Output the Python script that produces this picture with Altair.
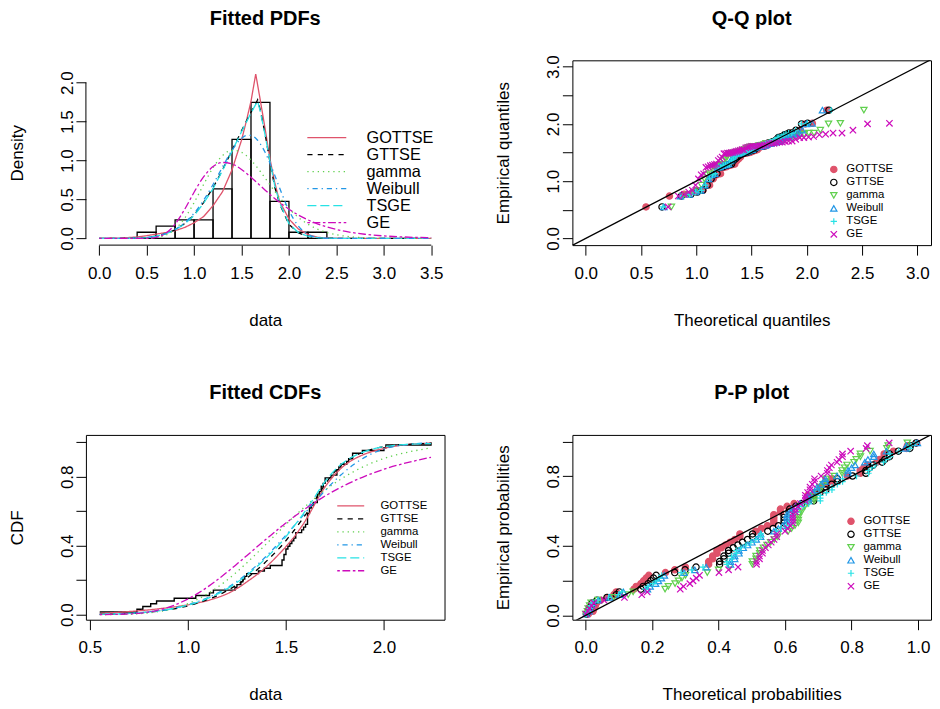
import altair as alt
import pandas as pd

FONT = "Liberation Sans"
W, H = 359, 185

MODELS = ["GOTTSE", "GTTSE", "gamma", "Weibull", "TSGE", "GE"]
COLORS = ["#DF536B", "#000000", "#61D04F", "#2297E6", "#28E2E5", "#CD0BBC"]
DASHES = [[1, 0], [5.2, 5.2], [1.3, 3.9], [1.3, 3.9, 5.2, 3.9], [9.1, 3.9], [2.6, 2.6, 7.8, 2.6]]
SHAPES = ["circle", "circle", "triangle-down", "triangle-up", "M-1,0H1M0,-1V1", "M-1,-1L1,1M-1,1L1,-1"]
FILLS = ["#DF536B", "transparent", "transparent", "transparent", "transparent", "transparent"]

# observed sample (sorted)
OBS = [0.55, 0.74, 0.77, 0.81, 0.84, 0.93, 1.04, 1.11, 1.13, 1.24, 1.25, 1.27, 1.28, 1.29, 1.30,
       1.36, 1.39, 1.42, 1.48, 1.48, 1.49, 1.49, 1.50, 1.50, 1.51, 1.52, 1.53, 1.54, 1.55, 1.55,
       1.58, 1.59, 1.60, 1.61, 1.61, 1.61, 1.61, 1.62, 1.62, 1.63, 1.64, 1.66, 1.66, 1.66, 1.67,
       1.68, 1.68, 1.69, 1.70, 1.70, 1.73, 1.76, 1.76, 1.77, 1.78, 1.81, 1.82, 1.84, 1.84, 1.89,
       2.00, 2.01, 2.24]

# histogram
HIST_LEFT = [0.4, 0.6, 0.8, 1.0, 1.2, 1.4, 1.6, 1.8, 2.0, 2.2]
HIST_RIGHT = [0.6, 0.8, 1.0, 1.2, 1.4, 1.6, 1.8, 2.0, 2.2, 2.4]
HIST_DENSITY = [0.079, 0.159, 0.238, 0.238, 0.635, 1.270, 1.746, 0.476, 0.079, 0.079]

# fitted densities
PDF_X = [0.0, 0.2, 0.4, 0.5, 0.6, 0.7, 0.8, 0.9, 1.0, 1.1, 1.2, 1.3, 1.4, 1.5, 1.55, 1.6, 1.65, 1.67,
         1.7, 1.75, 1.8, 1.85, 1.9, 2.0, 2.1, 2.2, 2.3, 2.4, 2.6, 2.8, 3.0, 3.2, 3.5]
PDF_GOTTSE = [0, 0.004, 0.018, 0.035, 0.055, 0.075, 0.10, 0.14, 0.20, 0.28, 0.42, 0.60, 0.88, 1.26, 1.50,
              1.76, 2.11, 1.97, 1.76, 1.40, 1.02, 0.72, 0.48, 0.25, 0.12, 0.05, 0.015, 0.004, 0.0005, 0, 0, 0, 0]
PDF_GTTSE = [0, 0, 0.003, 0.01, 0.03, 0.06, 0.11, 0.19, 0.30, 0.46, 0.65, 0.88, 1.13, 1.38, 1.50, 1.62,
             1.73, 1.78, 1.64, 1.33, 0.98, 0.66, 0.45, 0.18, 0.07, 0.025, 0.008, 0.003, 0, 0, 0, 0, 0]
PDF_GAMMA = [0, 0, 0.0001, 0.0017, 0.0106, 0.0419, 0.1183, 0.258, 0.4584, 0.6907, 0.9076, 1.064, 1.132,
             1.106, 1.063, 1.005, 0.935, 0.904, 0.8556, 0.7726, 0.6887, 0.606, 0.5273, 0.3848, 0.2698,
             0.1825, 0.1191, 0.0754, 0.0278, 0.0093, 0.0029, 0.0008, 0.0001]
PDF_WEIBULL = [0, 0.0002, 0.0043, 0.0125, 0.0297, 0.0619, 0.1162, 0.2007, 0.3233, 0.4883, 0.6918, 0.9175,
               1.1316, 1.284, 1.320, 1.3215, 1.2854, 1.260, 1.2114, 1.1024, 0.9663, 0.8124, 0.6525, 0.361,
               0.1574, 0.0519, 0.0122, 0.0019, 0.0, 0, 0, 0, 0]
PDF_TSGE = [0, 0, 0.003, 0.01, 0.028, 0.058, 0.108, 0.185, 0.295, 0.45, 0.64, 0.87, 1.12, 1.37, 1.49, 1.61,
            1.72, 1.76, 1.62, 1.32, 0.99, 0.68, 0.46, 0.19, 0.075, 0.028, 0.009, 0.003, 0, 0, 0, 0, 0]
PDF_GE = [0, 0, 0.0001, 0.0015, 0.0139, 0.0641, 0.1831, 0.3718, 0.5925, 0.7896, 0.9219, 0.9743, 0.9554,
          0.8851, 0.8377, 0.7853, 0.7306, 0.7084, 0.6745, 0.6188, 0.5645, 0.513, 0.4636, 0.3753, 0.3002,
          0.2381, 0.1876, 0.1470, 0.0893, 0.0537, 0.0322, 0.0192, 0.0088]

# fitted CDFs at the distinct sample values
CDF_X = [0.55, 0.74, 0.77, 0.81, 0.84, 0.93, 1.04, 1.11, 1.13, 1.24, 1.25, 1.27, 1.28, 1.29, 1.30, 1.36,
         1.39, 1.42, 1.48, 1.49, 1.50, 1.51, 1.52, 1.53, 1.54, 1.55, 1.58, 1.59, 1.60, 1.61, 1.62, 1.63,
         1.64, 1.66, 1.67, 1.68, 1.69, 1.70, 1.73, 1.76, 1.77, 1.78, 1.81, 1.82, 1.84, 1.89, 2.00, 2.01, 2.24]
CDF_GOTTSE = [0.008, 0.022, 0.025, 0.029, 0.033, 0.045, 0.066, 0.085, 0.092, 0.145, 0.152, 0.166, 0.174,
              0.182, 0.190, 0.240, 0.268, 0.300, 0.370, 0.382, 0.395, 0.408, 0.421, 0.435, 0.449, 0.464,
              0.512, 0.529, 0.547, 0.566, 0.586, 0.606, 0.627, 0.668, 0.688, 0.707, 0.725, 0.742, 0.787,
              0.826, 0.837, 0.848, 0.876, 0.884, 0.898, 0.926, 0.965, 0.968, 0.996]
CDF_GTTSE = [0.002, 0.009, 0.012, 0.016, 0.020, 0.034, 0.064, 0.092, 0.101, 0.166, 0.173, 0.188, 0.196,
             0.204, 0.212, 0.268, 0.299, 0.332, 0.403, 0.416, 0.430, 0.444, 0.458, 0.472, 0.487, 0.502,
             0.548, 0.564, 0.580, 0.597, 0.614, 0.632, 0.650, 0.686, 0.705, 0.723, 0.740, 0.757, 0.803,
             0.843, 0.854, 0.865, 0.892, 0.900, 0.914, 0.941, 0.975, 0.977, 0.994]
CDF_GAMMA = [0.0002, 0.0051, 0.0075, 0.0118, 0.0162, 0.0373, 0.0841, 0.1282, 0.1429, 0.2389, 0.2488,
             0.2690, 0.2793, 0.2898, 0.3004, 0.3660, 0.3996, 0.4336, 0.5014, 0.5125, 0.5236, 0.5347,
             0.5456, 0.5565, 0.5673, 0.5780, 0.6094, 0.6196, 0.6298, 0.6398, 0.6496, 0.6593, 0.6689,
             0.6876, 0.6967, 0.7057, 0.7145, 0.7231, 0.7481, 0.7715, 0.7790, 0.7863, 0.8072, 0.8138,
             0.8266, 0.8557, 0.9063, 0.9100, 0.9677]
CDF_WEIBULL = [0.0019, 0.0104, 0.0130, 0.0174, 0.0214, 0.0383, 0.0718, 0.1028, 0.1134, 0.1860, 0.1940,
               0.2105, 0.2191, 0.2280, 0.2370, 0.2961, 0.3285, 0.3627, 0.4358, 0.4485, 0.4613, 0.4742,
               0.4872, 0.5002, 0.5134, 0.5265, 0.5662, 0.5795, 0.5927, 0.6059, 0.6191, 0.6321, 0.6451,
               0.6708, 0.6835, 0.6960, 0.7085, 0.7206, 0.7561, 0.7895, 0.8001, 0.8104, 0.8399, 0.8491,
               0.8667, 0.9049, 0.9617, 0.9652, 0.9981]
CDF_TSGE = [0.002, 0.010, 0.013, 0.017, 0.021, 0.037, 0.069, 0.099, 0.109, 0.179, 0.187, 0.203, 0.211,
            0.220, 0.229, 0.287, 0.319, 0.353, 0.425, 0.439, 0.453, 0.467, 0.482, 0.497, 0.512, 0.527,
            0.572, 0.588, 0.604, 0.620, 0.637, 0.654, 0.671, 0.706, 0.724, 0.741, 0.757, 0.773, 0.815,
            0.851, 0.861, 0.871, 0.896, 0.903, 0.916, 0.942, 0.975, 0.977, 0.993]
CDF_GE = [0.0002, 0.0074, 0.0110, 0.0177, 0.0244, 0.0552, 0.1166, 0.1688, 0.1852, 0.2846, 0.2942, 0.3134,
          0.3231, 0.3327, 0.3425, 0.4010, 0.4299, 0.4584, 0.5140, 0.5229, 0.5320, 0.5408, 0.5495, 0.5582,
          0.5668, 0.5750, 0.5997, 0.6077, 0.6157, 0.6234, 0.6311, 0.6389, 0.6461, 0.6609, 0.6678, 0.6749,
          0.6819, 0.6886, 0.7083, 0.7272, 0.7332, 0.7392, 0.7563, 0.7618, 0.7726, 0.7972, 0.8438, 0.8475,
          0.9132]

# theoretical quantiles (Q-Q plot), one per sorted observation
QQ_GOTTSE = [0.545, 0.757, 0.89, 0.985, 1.06, 1.12, 1.153, 1.186, 1.219, 1.248, 1.271, 1.291, 1.31, 1.329,
             1.348, 1.366, 1.383, 1.399, 1.414, 1.428, 1.442, 1.455, 1.469, 1.482, 1.495, 1.507, 1.52,
             1.531, 1.542, 1.553, 1.562, 1.572, 1.582, 1.591, 1.600, 1.609, 1.617, 1.625, 1.632, 1.640,
             1.648, 1.655, 1.663, 1.671, 1.680, 1.688, 1.698, 1.708, 1.719, 1.729, 1.741, 1.753, 1.767,
             1.781, 1.798, 1.816, 1.838, 1.866, 1.897, 1.941, 1.986, 2.05, 2.18]
QQ_GTTSE = [0.69, 0.864, 0.951, 1.009, 1.058, 1.098, 1.134, 1.160, 1.187, 1.214, 1.241, 1.263, 1.283,
            1.302, 1.319, 1.336, 1.353, 1.369, 1.385, 1.400, 1.414, 1.428, 1.441, 1.455, 1.468, 1.481,
            1.493, 1.505, 1.516, 1.527, 1.538, 1.549, 1.559, 1.569, 1.580, 1.590, 1.600, 1.609, 1.618,
            1.627, 1.636, 1.645, 1.654, 1.662, 1.671, 1.680, 1.689, 1.698, 1.708, 1.719, 1.729, 1.741,
            1.753, 1.766, 1.780, 1.798, 1.816, 1.838, 1.867, 1.901, 1.952, 2.007, 2.20]
QQ_GAMMA = [0.775, 0.879, 0.938, 0.981, 1.015, 1.046, 1.072, 1.097, 1.119, 1.140, 1.160, 1.179, 1.197,
            1.214, 1.231, 1.247, 1.263, 1.279, 1.294, 1.309, 1.323, 1.338, 1.352, 1.366, 1.380, 1.395,
            1.409, 1.423, 1.437, 1.450, 1.464, 1.479, 1.493, 1.507, 1.522, 1.537, 1.551, 1.566, 1.581,
            1.597, 1.613, 1.630, 1.646, 1.663, 1.681, 1.699, 1.718, 1.738, 1.758, 1.780, 1.801, 1.825,
            1.851, 1.878, 1.908, 1.940, 1.976, 2.017, 2.065, 2.122, 2.196, 2.303, 2.516]
QQ_WEIBULL = [0.707, 0.856, 0.936, 0.994, 1.039, 1.077, 1.111, 1.140, 1.167, 1.192, 1.214, 1.236, 1.256,
              1.274, 1.292, 1.310, 1.326, 1.342, 1.358, 1.373, 1.387, 1.401, 1.415, 1.429, 1.442, 1.455,
              1.468, 1.481, 1.493, 1.505, 1.518, 1.530, 1.542, 1.554, 1.566, 1.578, 1.590, 1.602, 1.614,
              1.626, 1.638, 1.651, 1.663, 1.675, 1.688, 1.701, 1.715, 1.728, 1.742, 1.757, 1.771, 1.787,
              1.803, 1.820, 1.838, 1.858, 1.879, 1.902, 1.928, 1.959, 1.996, 2.048, 2.141]
QQ_TSGE = [0.70, 0.856, 0.939, 0.994, 1.046, 1.083, 1.118, 1.146, 1.171, 1.196, 1.221, 1.244, 1.264, 1.284,
           1.301, 1.318, 1.334, 1.351, 1.366, 1.381, 1.396, 1.410, 1.423, 1.437, 1.450, 1.463, 1.476,
           1.488, 1.499, 1.511, 1.521, 1.532, 1.543, 1.553, 1.564, 1.574, 1.585, 1.594, 1.604, 1.614,
           1.623, 1.633, 1.642, 1.651, 1.660, 1.669, 1.678, 1.688, 1.698, 1.709, 1.720, 1.732, 1.745,
           1.758, 1.774, 1.792, 1.811, 1.835, 1.864, 1.898, 1.950, 2.005, 2.22]
QQ_GE = [0.745, 0.837, 0.891, 0.931, 0.964, 0.993, 1.019, 1.044, 1.066, 1.087, 1.107, 1.127, 1.146, 1.164,
         1.182, 1.199, 1.216, 1.233, 1.250, 1.266, 1.282, 1.299, 1.315, 1.331, 1.348, 1.364, 1.380, 1.397,
         1.414, 1.430, 1.447, 1.465, 1.482, 1.500, 1.518, 1.537, 1.555, 1.575, 1.594, 1.615, 1.636, 1.657,
         1.680, 1.703, 1.727, 1.752, 1.778, 1.806, 1.835, 1.867, 1.899, 1.935, 1.973, 2.015, 2.061, 2.113,
         2.170, 2.237, 2.318, 2.417, 2.549, 2.747, 3.172]

# axis ticks and reference line
PDF_XTICKS = [0.0, 0.5, 1.0, 1.5, 2.0, 2.5, 3.0, 3.5]
PDF_YTICKS = [0.0, 0.5, 1.0, 1.5, 2.0]
QQ_TICKS = [0.0, 0.5, 1.0, 1.5, 2.0, 2.5, 3.0]
CDF_XTICKS = [0.5, 1.0, 1.5, 2.0]
PROB_TICKS = [0.0, 0.2, 0.4, 0.6, 0.8, 1.0]
DIAG = [-1.0, 4.0]

PDFS = dict(zip(MODELS, [PDF_GOTTSE, PDF_GTTSE, PDF_GAMMA, PDF_WEIBULL, PDF_TSGE, PDF_GE]))
CDFS = dict(zip(MODELS, [CDF_GOTTSE, CDF_GTTSE, CDF_GAMMA, CDF_WEIBULL, CDF_TSGE, CDF_GE]))
QQS = dict(zip(MODELS, [QQ_GOTTSE, QQ_GTTSE, QQ_GAMMA, QQ_WEIBULL, QQ_TSGE, QQ_GE]))
N = len(OBS)

# ---------------- tables ----------------
hist_df = pd.DataFrame({"x": HIST_LEFT, "x2": HIST_RIGHT, "y": HIST_DENSITY})
pdf_df = pd.concat([pd.DataFrame({"x": PDF_X, "y": PDFS[m], "model": m}) for m in MODELS])
cdf_df = pd.concat([pd.DataFrame({"x": CDF_X, "y": CDFS[m], "model": m}) for m in MODELS])
qq_df = pd.concat([pd.DataFrame({"x": QQS[m], "y": OBS, "model": m}) for m in MODELS])
pp_df = pd.concat([pd.DataFrame({"x": [CDFS[m][CDF_X.index(v)] for v in OBS], "obs": OBS, "model": m})
                   for m in MODELS])
obs_df = pd.DataFrame({"x": OBS})
diag_df = pd.DataFrame({"x": DIAG, "y": DIAG})
pdf_axis_df = pd.DataFrame({"x": [min(PDF_XTICKS)], "x2": [max(PDF_XTICKS)],
                            "y": [min(PDF_YTICKS)], "y2": [max(PDF_YTICKS)]})


def scale(domain):
    return alt.Scale(domain=domain, nice=False, zero=False)


def bottom_axis(values, title, label_expr=None):
    kw = dict(values=values, title=title, format=".1f", labelAngle=0, labelAlign="center",
              labelBaseline="alphabetic", labelPadding=23, titleX=W / 2, titleY=80,
              titleAlign="center", titleBaseline="alphabetic", titleAngle=0)
    if label_expr:
        kw["labelExpr"] = label_expr
    return alt.Axis(**kw)


def left_axis(values, title, label_expr=None):
    kw = dict(values=values, title=title, format=".1f", labelAngle=270, labelAlign="center",
              labelBaseline="alphabetic", labelPadding=3.6, titleX=-63.5, titleY=H / 2,
              titleAlign="center", titleBaseline="alphabetic", titleAngle=270)
    if label_expr:
        kw["labelExpr"] = label_expr
    return alt.Axis(**kw)


def main_title(text, offset):
    return alt.TitleParams(text=text, fontSize=20, fontWeight="bold", font=FONT, color="black",
                           anchor="middle", frame="group", baseline="alphabetic", offset=offset)


def line_legend(x, y, unit, fs, loff):
    # elongated stroke path so that the row height follows the label, not the line length
    return alt.Legend(title=None, orient="none", legendX=x, legendY=y, symbolType="M-5,0H5",
                      symbolSize=unit * unit, symbolStrokeWidth=1.3, symbolFillColor="transparent",
                      labelFont=FONT, labelFontSize=fs, labelColor="black", labelOffset=loff,
                      rowPadding=0, padding=0)


def point_legend(x, y):
    return alt.Legend(title=None, orient="none", legendX=x, legendY=y, symbolSize=40,
                      symbolStrokeWidth=1.2, labelFont=FONT, labelFontSize=11.4, labelColor="black",
                      labelOffset=6.8, rowPadding=0, padding=0)


color_scale = alt.Scale(domain=MODELS, range=COLORS)
dash_scale = alt.Scale(domain=MODELS, range=DASHES)
CUSP = ["GOTTSE", "GTTSE", "TSGE"]
SMOOTH = ["gamma", "Weibull", "GE"]

# ---------------- panel 1: densities ----------------
X1 = alt.X("x:Q", scale=scale([-0.14, 3.64]), axis=bottom_axis(PDF_XTICKS, "data"))
Y1 = alt.Y("y:Q", scale=scale([-0.086, 2.286]), axis=left_axis(PDF_YTICKS, "Density"))
leg1 = line_legend(233, 69.3, 7.8, 16.3, 31.6)

hist = alt.Chart(hist_df).mark_rect(fill="transparent", stroke="black", strokeWidth=1.3).encode(
    x=X1, x2="x2:Q", y=Y1, y2=alt.datum(0))
curve_enc = dict(x=X1, y=Y1,
                 color=alt.Color("model:N", scale=color_scale, legend=leg1),
                 strokeDash=alt.StrokeDash("model:N", scale=dash_scale, legend=leg1))
pdf_cusp = alt.Chart(pdf_df).transform_filter(
    alt.FieldOneOfPredicate(field="model", oneOf=CUSP)).mark_line(strokeWidth=1.3).encode(**curve_enc)
pdf_smooth = alt.Chart(pdf_df).transform_filter(
    alt.FieldOneOfPredicate(field="model", oneOf=SMOOTH)).mark_line(
    strokeWidth=1.3, interpolate="monotone").encode(**curve_enc)
xline = alt.Chart(pdf_axis_df).mark_rule(color="black", strokeWidth=1).encode(
    x=X1, x2="x2:Q", y=alt.value(H))
yline = alt.Chart(pdf_axis_df).mark_rule(color="black", strokeWidth=1).encode(
    y=Y1, y2="y2:Q", x=alt.value(0))
p1 = alt.layer(hist, pdf_cusp, pdf_smooth, xline, yline).properties(
    width=W, height=H, title=main_title("Fitted PDFs", 15.8),
    view=alt.ViewBackground(strokeOpacity=0))

# ---------------- panel 2: Q-Q ----------------
X2 = alt.X("x:Q", scale=scale([-0.121, 3.123]), axis=bottom_axis(QQ_TICKS, "Theoretical quantiles"))
Y2 = alt.Y("y:Q", scale=scale([-0.117, 3.110]),
           axis=left_axis(QQ_TICKS, "Empirical quantiles",
                          "datum.value % 1 == 0 ? format(datum.value, '.1f') : ''"))
leg2 = point_legend(256, 103.5)


def point_layer(df, X, Y, leg, extra=None):
    ch = alt.Chart(df)
    if extra is not None:
        ch = extra(ch)
    return ch.mark_point(clip=True, size=40, strokeWidth=1.2, opacity=1).encode(
        x=X, y=Y,
        stroke=alt.Stroke("model:N", scale=color_scale, legend=leg),
        fill=alt.Fill("model:N", scale=alt.Scale(domain=MODELS, range=FILLS), legend=leg),
        shape=alt.Shape("model:N", scale=alt.Scale(domain=MODELS, range=SHAPES), legend=leg))


qq_pts = point_layer(qq_df, X2, Y2, leg2)
qq_line = alt.Chart(diag_df).mark_line(clip=True, color="black", strokeWidth=1.3).encode(x=X2, y=Y2)
p2 = alt.layer(qq_pts, qq_line).properties(width=W, height=H, title=main_title("Q-Q plot", 9.8))

# ---------------- panel 3: CDFs ----------------
PROB_EXPR = "round(datum.value * 10) % 4 == 0 ? format(datum.value, '.1f') : ''"
X3 = alt.X("x:Q", scale=scale([0.4796, 2.309]), axis=bottom_axis(CDF_XTICKS, "data"))
Y3 = alt.Y("y:Q", scale=scale([-0.029, 1.043]), axis=left_axis(PROB_TICKS, "CDF", PROB_EXPR))
leg3 = line_legend(259.4, 65.3, 5.4, 11.4, 24.1)

ecdf = alt.Chart(obs_df).transform_window(
    k="count()", sort=[alt.SortField("x")]).transform_calculate(
    y=f"datum.k / {N}").mark_line(color="black", strokeWidth=1.4, interpolate="step-after").encode(
    x=X3, y=Y3, order="k:Q")
cdf_lines = alt.Chart(cdf_df).mark_line(strokeWidth=1.3, interpolate="monotone").encode(
    x=X3, y=Y3,
    color=alt.Color("model:N", scale=color_scale, legend=leg3),
    strokeDash=alt.StrokeDash("model:N", scale=dash_scale, legend=leg3))
p3 = alt.layer(ecdf, cdf_lines).properties(width=W, height=H, title=main_title("Fitted CDFs", 15.8))

# ---------------- panel 4: P-P ----------------
X4 = alt.X("x:Q", scale=scale([-0.040, 1.039]), axis=bottom_axis(PROB_TICKS, "Theoretical probabilities"))
Y4 = alt.Y("y:Q", scale=scale([-0.025, 1.038]),
           axis=left_axis(PROB_TICKS, "Empirical probabilities", PROB_EXPR))
leg4 = point_legend(273.2, 80.8)
pp_pts = point_layer(pp_df, X4, Y4, leg4,
                     extra=lambda c: c.transform_window(
                         i="row_number()", groupby=["model"], sort=[alt.SortField("obs")]
                     ).transform_calculate(y=f"(datum.i - 0.5) / {N}"))
pp_line = alt.Chart(diag_df).mark_line(clip=True, color="black", strokeWidth=1.3).encode(x=X4, y=Y4)
p4 = alt.layer(pp_pts, pp_line).properties(width=W, height=H, title=main_title("P-P plot", 15.8))

chart = alt.concat(p1, p2, p3, p4, columns=2, spacing={"row": 190, "column": 128},
                   bounds="flush").resolve_scale(
    x="independent", y="independent", color="independent", strokeDash="independent",
    stroke="independent", fill="independent", shape="independent").resolve_legend(
    color="independent", strokeDash="independent", stroke="independent", fill="independent",
    shape="independent").properties(
    padding={"left": 0, "top": 0, "right": 0, "bottom": 0}, background="white").configure_axis(
    labelFont=FONT, titleFont=FONT, labelFontSize=17, titleFontSize=17, titleFontWeight="normal",
    labelColor="black", titleColor="black", tickColor="black", tickSize=10, tickWidth=1,
    domain=False, grid=False, labelFlush=False, labelOverlap=False, labelBound=False).configure_view(
    stroke="black", strokeWidth=1)

chart.save("out.html", embed_options={"renderer": "svg", "actions": False})
